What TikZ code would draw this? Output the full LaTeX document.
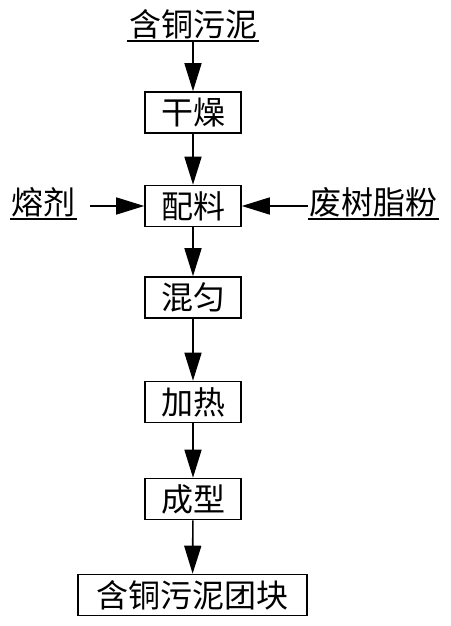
\documentclass[tikz,border=0pt]{standalone}
\usepackage{fontspec}
\newfontfamily\cjk{Noto Sans CJK SC}
\usepackage{tikz}
\usetikzlibrary{arrows.meta, positioning, calc}
\tikzset{
	stepbox/.style={draw, line width=1.6pt, minimum width=96pt, minimum height=41pt, inner sep=0pt},
	feed/.style={anchor=south, inner sep=1.5pt},
	flow/.style={line width=1.6pt, -{Triangle[length=28pt, width=17pt]}}
}
\newcommand{\uline}[1]
{
	\draw[line width=1.4pt] (#1.south west) -- (#1.south east)
}

\begin{document}
\begin{tikzpicture}[x=1pt, y=-1pt, every node/.append style={font=\cjk\fontsize{32}{32}\selectfont}]
	\useasboundingbox (0,0) rectangle (450,626);
	\node[feed] at (193, 41) (src) {含铜污泥};
	\node[feed] at (43.5, 219) (flux) {熔剂};
	\node[feed] at (373.5, 219) (resin) {废树脂粉};
	\node[stepbox] at (193, 112.5) (dry) {干燥};
	\node[stepbox] at (193, 206) (batch) {配料};
	\node[stepbox] at (193, 297.5) (blend) {混匀};
	\node[stepbox] at (193, 402) (heat) {加热};
	\node[stepbox] at (193, 499) (form) {成型};
	\node[stepbox, minimum width=229pt] at (192.5, 595) (brick) {含铜污泥团块};
		\foreach \n in {src, flux, resin}
			\uline{\n};
		\foreach \a/\b in {src/dry, dry/batch, batch/blend, blend/heat, heat/form, form/brick}
			\draw[flow] (\a) -- (\b);
		\draw[flow, shorten <=13pt] (flux.east |- batch) -- (batch);
		\draw[flow] (resin.west |- batch) -- (batch);
\end{tikzpicture}
\end{document}
